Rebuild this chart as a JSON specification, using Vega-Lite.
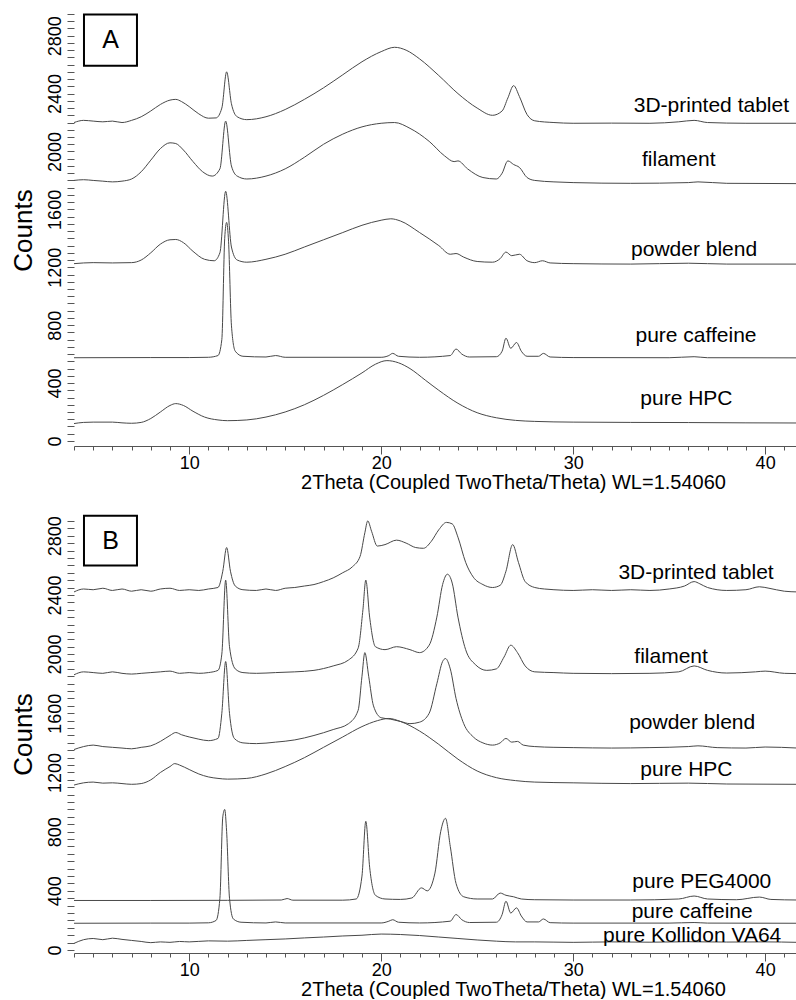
{
"$schema": "https://vega.github.io/schema/vega-lite/v6.json",
"padding": {"left": 9, "top": 13, "right": 0, "bottom": 0},
"autosize": {"type": "pad"},
"spacing": 22,
"config": {"view": {"stroke": null}, "font": "Liberation Sans",
 "axis": {"labelFont": "Liberation Sans", "titleFont": "Liberation Sans", "titleFontWeight": "normal", "labelColor": "#000", "titleColor": "#000", "tickColor": "#555", "domainColor": "#555", "grid": false}},
"datasets": {
"A": [
{"s":"t","x":4,"y":2200},{"s":"t","x":4.5,"y":2215},{"s":"t","x":5,"y":2210},{"s":"t","x":5.5,"y":2205},{"s":"t","x":6,"y":2210},{"s":"t","x":6.5,"y":2200},{"s":"t","x":7,"y":2215},{"s":"t","x":7.5,"y":2240},{"s":"t","x":8,"y":2280},{"s":"t","x":8.5,"y":2325},{"s":"t","x":9,"y":2355},{"s":"t","x":9.3,"y":2360},{"s":"t","x":9.6,"y":2345},{"s":"t","x":10,"y":2310},{"s":"t","x":10.5,"y":2260},{"s":"t","x":11,"y":2230},{"s":"t","x":11.4,"y":2232},{"s":"t","x":11.7,"y":2300},{"s":"t","x":11.95,"y":2550},{"s":"t","x":12.2,"y":2330},{"s":"t","x":12.5,"y":2240},{"s":"t","x":13,"y":2220},{"s":"t","x":14,"y":2240},{"s":"t","x":15,"y":2290},{"s":"t","x":16,"y":2360},{"s":"t","x":17,"y":2440},{"s":"t","x":18,"y":2530},{"s":"t","x":19,"y":2620},{"s":"t","x":20,"y":2690},{"s":"t","x":20.7,"y":2720},{"s":"t","x":21.3,"y":2700},{"s":"t","x":22,"y":2640},{"s":"t","x":23,"y":2525},{"s":"t","x":24,"y":2400},{"s":"t","x":25,"y":2300},{"s":"t","x":25.8,"y":2250},{"s":"t","x":26.3,"y":2280},{"s":"t","x":26.6,"y":2370},{"s":"t","x":26.9,"y":2455},{"s":"t","x":27.2,"y":2380},{"s":"t","x":27.6,"y":2255},{"s":"t","x":28,"y":2212},{"s":"t","x":29,"y":2200},{"s":"t","x":30,"y":2195},{"s":"t","x":32,"y":2196},{"s":"t","x":34,"y":2195},{"s":"t","x":35.5,"y":2205},{"s":"t","x":36.3,"y":2215},{"s":"t","x":37,"y":2200},{"s":"t","x":39,"y":2195},{"s":"t","x":41.7,"y":2195},
{"s":"f","x":4,"y":1800},{"s":"f","x":4.5,"y":1805},{"s":"f","x":5,"y":1800},{"s":"f","x":5.5,"y":1795},{"s":"f","x":6,"y":1790},{"s":"f","x":6.5,"y":1795},{"s":"f","x":7,"y":1810},{"s":"f","x":7.5,"y":1860},{"s":"f","x":8,"y":1940},{"s":"f","x":8.5,"y":2020},{"s":"f","x":9,"y":2060},{"s":"f","x":9.3,"y":2055},{"s":"f","x":9.7,"y":2010},{"s":"f","x":10.2,"y":1930},{"s":"f","x":10.7,"y":1860},{"s":"f","x":11.2,"y":1830},{"s":"f","x":11.6,"y":1880},{"s":"f","x":11.9,"y":2210},{"s":"f","x":12.2,"y":1900},{"s":"f","x":12.5,"y":1830},{"s":"f","x":13,"y":1810},{"s":"f","x":14,"y":1830},{"s":"f","x":15,"y":1880},{"s":"f","x":16,"y":1960},{"s":"f","x":17,"y":2050},{"s":"f","x":18,"y":2120},{"s":"f","x":19,"y":2170},{"s":"f","x":20,"y":2195},{"s":"f","x":20.7,"y":2200},{"s":"f","x":21.5,"y":2160},{"s":"f","x":22.5,"y":2070},{"s":"f","x":23.3,"y":1970},{"s":"f","x":23.8,"y":1930},{"s":"f","x":24,"y":1935},{"s":"f","x":24.5,"y":1880},{"s":"f","x":25.3,"y":1820},{"s":"f","x":26,"y":1810},{"s":"f","x":26.3,"y":1850},{"s":"f","x":26.6,"y":1935},{"s":"f","x":26.9,"y":1910},{"s":"f","x":27.2,"y":1890},{"s":"f","x":27.6,"y":1820},{"s":"f","x":28,"y":1800},{"s":"f","x":29,"y":1790},{"s":"f","x":30,"y":1785},{"s":"f","x":33,"y":1780},{"s":"f","x":36,"y":1785},{"s":"f","x":36.5,"y":1790},{"s":"f","x":38,"y":1780},{"s":"f","x":41.7,"y":1778},
{"s":"p","x":4,"y":1225},{"s":"p","x":5,"y":1232},{"s":"p","x":6,"y":1230},{"s":"p","x":7,"y":1232},{"s":"p","x":7.5,"y":1250},{"s":"p","x":8,"y":1300},{"s":"p","x":8.5,"y":1360},{"s":"p","x":9,"y":1390},{"s":"p","x":9.3,"y":1392},{"s":"p","x":9.7,"y":1370},{"s":"p","x":10.2,"y":1310},{"s":"p","x":10.8,"y":1255},{"s":"p","x":11.3,"y":1245},{"s":"p","x":11.6,"y":1300},{"s":"p","x":11.9,"y":1725},{"s":"p","x":12.2,"y":1340},{"s":"p","x":12.5,"y":1250},{"s":"p","x":13,"y":1235},{"s":"p","x":14,"y":1255},{"s":"p","x":15,"y":1290},{"s":"p","x":16,"y":1340},{"s":"p","x":17,"y":1390},{"s":"p","x":18,"y":1440},{"s":"p","x":19,"y":1490},{"s":"p","x":20,"y":1525},{"s":"p","x":20.5,"y":1535},{"s":"p","x":21,"y":1520},{"s":"p","x":22,"y":1440},{"s":"p","x":23,"y":1350},{"s":"p","x":23.6,"y":1290},{"s":"p","x":23.9,"y":1295},{"s":"p","x":24.3,"y":1270},{"s":"p","x":25,"y":1240},{"s":"p","x":25.8,"y":1235},{"s":"p","x":26.2,"y":1260},{"s":"p","x":26.5,"y":1305},{"s":"p","x":26.8,"y":1280},{"s":"p","x":27.2,"y":1290},{"s":"p","x":27.6,"y":1245},{"s":"p","x":28,"y":1232},{"s":"p","x":28.4,"y":1245},{"s":"p","x":28.8,"y":1230},{"s":"p","x":30,"y":1225},{"s":"p","x":33,"y":1222},{"s":"p","x":36,"y":1228},{"s":"p","x":38,"y":1222},{"s":"p","x":41.7,"y":1222},
{"s":"c","x":4,"y":575},{"s":"c","x":8,"y":576},{"s":"c","x":10,"y":576},{"s":"c","x":11,"y":578},{"s":"c","x":11.5,"y":590},{"s":"c","x":11.7,"y":700},{"s":"c","x":11.85,"y":1400},{"s":"c","x":11.95,"y":1510},{"s":"c","x":12.05,"y":1380},{"s":"c","x":12.2,"y":800},{"s":"c","x":12.4,"y":620},{"s":"c","x":12.8,"y":585},{"s":"c","x":14,"y":580},{"s":"c","x":14.5,"y":590},{"s":"c","x":15,"y":578},{"s":"c","x":20,"y":578},{"s":"c","x":20.4,"y":590},{"s":"c","x":20.6,"y":605},{"s":"c","x":20.9,"y":585},{"s":"c","x":22,"y":578},{"s":"c","x":23.6,"y":590},{"s":"c","x":23.9,"y":635},{"s":"c","x":24.2,"y":600},{"s":"c","x":24.6,"y":580},{"s":"c","x":26,"y":582},{"s":"c","x":26.3,"y":620},{"s":"c","x":26.5,"y":710},{"s":"c","x":26.75,"y":640},{"s":"c","x":27.05,"y":680},{"s":"c","x":27.3,"y":620},{"s":"c","x":27.6,"y":585},{"s":"c","x":28.2,"y":585},{"s":"c","x":28.45,"y":605},{"s":"c","x":28.8,"y":580},{"s":"c","x":30,"y":576},{"s":"c","x":35,"y":575},{"s":"c","x":36.3,"y":582},{"s":"c","x":37,"y":575},{"s":"c","x":41.7,"y":574},
{"s":"h","x":4,"y":120},{"s":"h","x":4.5,"y":128},{"s":"h","x":5,"y":130},{"s":"h","x":6,"y":130},{"s":"h","x":6.5,"y":125},{"s":"h","x":7,"y":122},{"s":"h","x":7.5,"y":128},{"s":"h","x":8,"y":155},{"s":"h","x":8.5,"y":200},{"s":"h","x":9,"y":245},{"s":"h","x":9.3,"y":258},{"s":"h","x":9.7,"y":245},{"s":"h","x":10.2,"y":205},{"s":"h","x":10.8,"y":165},{"s":"h","x":11.5,"y":145},{"s":"h","x":12,"y":140},{"s":"h","x":13,"y":145},{"s":"h","x":14,"y":165},{"s":"h","x":15,"y":200},{"s":"h","x":16,"y":250},{"s":"h","x":17,"y":315},{"s":"h","x":18,"y":390},{"s":"h","x":19,"y":470},{"s":"h","x":19.7,"y":530},{"s":"h","x":20.3,"y":555},{"s":"h","x":20.9,"y":540},{"s":"h","x":21.5,"y":500},{"s":"h","x":22.3,"y":420},{"s":"h","x":23,"y":350},{"s":"h","x":24,"y":260},{"s":"h","x":25,"y":195},{"s":"h","x":26,"y":160},{"s":"h","x":27,"y":142},{"s":"h","x":28,"y":135},{"s":"h","x":30,"y":130},{"s":"h","x":33,"y":128},{"s":"h","x":36,"y":127},{"s":"h","x":39,"y":125},{"s":"h","x":41.7,"y":124}
],
"B": [
{"s":"t","x":4,"y":2420},{"s":"t","x":4.5,"y":2440},{"s":"t","x":5,"y":2435},{"s":"t","x":5.5,"y":2445},{"s":"t","x":6,"y":2430},{"s":"t","x":6.5,"y":2440},{"s":"t","x":7,"y":2425},{"s":"t","x":7.5,"y":2435},{"s":"t","x":8,"y":2425},{"s":"t","x":8.5,"y":2440},{"s":"t","x":9,"y":2445},{"s":"t","x":9.5,"y":2430},{"s":"t","x":10,"y":2435},{"s":"t","x":10.5,"y":2430},{"s":"t","x":11,"y":2440},{"s":"t","x":11.5,"y":2450},{"s":"t","x":11.75,"y":2560},{"s":"t","x":11.95,"y":2720},{"s":"t","x":12.15,"y":2560},{"s":"t","x":12.4,"y":2460},{"s":"t","x":12.8,"y":2435},{"s":"t","x":13.5,"y":2430},{"s":"t","x":14,"y":2440},{"s":"t","x":14.5,"y":2430},{"s":"t","x":15,"y":2445},{"s":"t","x":15.5,"y":2450},{"s":"t","x":16,"y":2460},{"s":"t","x":16.5,"y":2470},{"s":"t","x":17,"y":2490},{"s":"t","x":17.5,"y":2515},{"s":"t","x":18,"y":2550},{"s":"t","x":18.5,"y":2590},{"s":"t","x":18.9,"y":2660},{"s":"t","x":19.15,"y":2820},{"s":"t","x":19.3,"y":2900},{"s":"t","x":19.5,"y":2830},{"s":"t","x":19.8,"y":2730},{"s":"t","x":20.2,"y":2740},{"s":"t","x":20.8,"y":2770},{"s":"t","x":21.3,"y":2750},{"s":"t","x":21.8,"y":2720},{"s":"t","x":22.2,"y":2715},{"s":"t","x":22.6,"y":2760},{"s":"t","x":23,"y":2840},{"s":"t","x":23.4,"y":2890},{"s":"t","x":23.7,"y":2880},{"s":"t","x":24,"y":2790},{"s":"t","x":24.4,"y":2620},{"s":"t","x":24.8,"y":2520},{"s":"t","x":25.3,"y":2470},{"s":"t","x":25.8,"y":2450},{"s":"t","x":26.2,"y":2465},{"s":"t","x":26.5,"y":2560},{"s":"t","x":26.85,"y":2740},{"s":"t","x":27.15,"y":2620},{"s":"t","x":27.5,"y":2490},{"s":"t","x":28,"y":2450},{"s":"t","x":28.5,"y":2440},{"s":"t","x":29,"y":2435},{"s":"t","x":30,"y":2430},{"s":"t","x":31,"y":2435},{"s":"t","x":32,"y":2430},{"s":"t","x":33,"y":2435},{"s":"t","x":34,"y":2430},{"s":"t","x":35,"y":2440},{"s":"t","x":35.8,"y":2460},{"s":"t","x":36.3,"y":2490},{"s":"t","x":36.6,"y":2475},{"s":"t","x":37,"y":2450},{"s":"t","x":38,"y":2430},{"s":"t","x":39,"y":2435},{"s":"t","x":39.7,"y":2455},{"s":"t","x":40.2,"y":2445},{"s":"t","x":41,"y":2425},{"s":"t","x":41.7,"y":2420},
{"s":"f","x":4,"y":1860},{"s":"f","x":4.5,"y":1880},{"s":"f","x":5,"y":1875},{"s":"f","x":5.5,"y":1870},{"s":"f","x":6,"y":1880},{"s":"f","x":6.5,"y":1870},{"s":"f","x":7,"y":1865},{"s":"f","x":7.5,"y":1870},{"s":"f","x":8,"y":1875},{"s":"f","x":8.5,"y":1880},{"s":"f","x":9,"y":1885},{"s":"f","x":9.5,"y":1870},{"s":"f","x":10,"y":1875},{"s":"f","x":10.5,"y":1870},{"s":"f","x":11,"y":1875},{"s":"f","x":11.5,"y":1890},{"s":"f","x":11.7,"y":2000},{"s":"f","x":11.9,"y":2500},{"s":"f","x":12.1,"y":2050},{"s":"f","x":12.4,"y":1900},{"s":"f","x":12.8,"y":1875},{"s":"f","x":13.5,"y":1870},{"s":"f","x":14.5,"y":1875},{"s":"f","x":15.5,"y":1880},{"s":"f","x":16.5,"y":1890},{"s":"f","x":17.5,"y":1920},{"s":"f","x":18.3,"y":1960},{"s":"f","x":18.8,"y":2040},{"s":"f","x":19.05,"y":2300},{"s":"f","x":19.2,"y":2500},{"s":"f","x":19.4,"y":2250},{"s":"f","x":19.7,"y":2050},{"s":"f","x":20.2,"y":2030},{"s":"f","x":20.8,"y":2050},{"s":"f","x":21.5,"y":2030},{"s":"f","x":22,"y":2010},{"s":"f","x":22.5,"y":2060},{"s":"f","x":22.9,"y":2250},{"s":"f","x":23.2,"y":2470},{"s":"f","x":23.45,"y":2540},{"s":"f","x":23.7,"y":2480},{"s":"f","x":24,"y":2250},{"s":"f","x":24.4,"y":2030},{"s":"f","x":24.9,"y":1930},{"s":"f","x":25.5,"y":1890},{"s":"f","x":26,"y":1900},{"s":"f","x":26.4,"y":1980},{"s":"f","x":26.75,"y":2060},{"s":"f","x":27.1,"y":2010},{"s":"f","x":27.5,"y":1920},{"s":"f","x":28,"y":1880},{"s":"f","x":29,"y":1875},{"s":"f","x":30,"y":1870},{"s":"f","x":32,"y":1868},{"s":"f","x":34,"y":1870},{"s":"f","x":35.5,"y":1880},{"s":"f","x":36.3,"y":1920},{"s":"f","x":37,"y":1890},{"s":"f","x":38,"y":1872},{"s":"f","x":39.5,"y":1880},{"s":"f","x":40,"y":1885},{"s":"f","x":41,"y":1870},{"s":"f","x":41.7,"y":1868},
{"s":"p","x":4,"y":1355},{"s":"p","x":4.5,"y":1375},{"s":"p","x":5,"y":1385},{"s":"p","x":5.5,"y":1375},{"s":"p","x":6,"y":1370},{"s":"p","x":6.5,"y":1365},{"s":"p","x":7,"y":1360},{"s":"p","x":7.5,"y":1370},{"s":"p","x":8,"y":1380},{"s":"p","x":8.5,"y":1410},{"s":"p","x":9,"y":1450},{"s":"p","x":9.3,"y":1470},{"s":"p","x":9.6,"y":1455},{"s":"p","x":10,"y":1440},{"s":"p","x":10.5,"y":1425},{"s":"p","x":11,"y":1415},{"s":"p","x":11.5,"y":1430},{"s":"p","x":11.7,"y":1600},{"s":"p","x":11.9,"y":1950},{"s":"p","x":12.1,"y":1600},{"s":"p","x":12.35,"y":1430},{"s":"p","x":12.8,"y":1400},{"s":"p","x":13.5,"y":1395},{"s":"p","x":14.5,"y":1405},{"s":"p","x":15.5,"y":1420},{"s":"p","x":16.5,"y":1450},{"s":"p","x":17.5,"y":1490},{"s":"p","x":18.3,"y":1530},{"s":"p","x":18.8,"y":1620},{"s":"p","x":19,"y":1850},{"s":"p","x":19.15,"y":2010},{"s":"p","x":19.35,"y":1850},{"s":"p","x":19.6,"y":1650},{"s":"p","x":20,"y":1570},{"s":"p","x":20.5,"y":1560},{"s":"p","x":21,"y":1545},{"s":"p","x":21.5,"y":1530},{"s":"p","x":22,"y":1540},{"s":"p","x":22.5,"y":1600},{"s":"p","x":22.9,"y":1800},{"s":"p","x":23.2,"y":1950},{"s":"p","x":23.35,"y":1970},{"s":"p","x":23.6,"y":1900},{"s":"p","x":23.9,"y":1700},{"s":"p","x":24.3,"y":1530},{"s":"p","x":24.8,"y":1440},{"s":"p","x":25.3,"y":1400},{"s":"p","x":25.8,"y":1385},{"s":"p","x":26.2,"y":1400},{"s":"p","x":26.5,"y":1430},{"s":"p","x":26.8,"y":1405},{"s":"p","x":27.1,"y":1410},{"s":"p","x":27.4,"y":1385},{"s":"p","x":28,"y":1375},{"s":"p","x":29,"y":1370},{"s":"p","x":30,"y":1368},{"s":"p","x":32,"y":1365},{"s":"p","x":34,"y":1368},{"s":"p","x":36,"y":1375},{"s":"p","x":36.5,"y":1380},{"s":"p","x":37.5,"y":1368},{"s":"p","x":39,"y":1365},{"s":"p","x":40,"y":1372},{"s":"p","x":41.7,"y":1365},
{"s":"h","x":4,"y":1115},{"s":"h","x":4.5,"y":1130},{"s":"h","x":5,"y":1135},{"s":"h","x":5.5,"y":1128},{"s":"h","x":6,"y":1130},{"s":"h","x":6.5,"y":1125},{"s":"h","x":7,"y":1120},{"s":"h","x":7.5,"y":1125},{"s":"h","x":8,"y":1150},{"s":"h","x":8.5,"y":1200},{"s":"h","x":9,"y":1240},{"s":"h","x":9.25,"y":1260},{"s":"h","x":9.5,"y":1250},{"s":"h","x":10,"y":1220},{"s":"h","x":10.5,"y":1190},{"s":"h","x":11,"y":1170},{"s":"h","x":11.5,"y":1160},{"s":"h","x":12,"y":1155},{"s":"h","x":13,"y":1160},{"s":"h","x":14,"y":1190},{"s":"h","x":15,"y":1240},{"s":"h","x":16,"y":1300},{"s":"h","x":17,"y":1370},{"s":"h","x":18,"y":1440},{"s":"h","x":19,"y":1510},{"s":"h","x":19.8,"y":1550},{"s":"h","x":20.4,"y":1565},{"s":"h","x":21,"y":1545},{"s":"h","x":22,"y":1480},{"s":"h","x":23,"y":1390},{"s":"h","x":24,"y":1290},{"s":"h","x":25,"y":1210},{"s":"h","x":26,"y":1165},{"s":"h","x":27,"y":1145},{"s":"h","x":28,"y":1135},{"s":"h","x":30,"y":1130},{"s":"h","x":33,"y":1125},{"s":"h","x":36,"y":1128},{"s":"h","x":38,"y":1122},{"s":"h","x":41.7,"y":1120},
{"s":"g","x":4,"y":335},{"s":"g","x":8,"y":335},{"s":"g","x":12,"y":336},{"s":"g","x":14.8,"y":338},{"s":"g","x":15.1,"y":348},{"s":"g","x":15.4,"y":337},{"s":"g","x":18,"y":337},{"s":"g","x":18.7,"y":345},{"s":"g","x":19,"y":500},{"s":"g","x":19.2,"y":870},{"s":"g","x":19.4,"y":560},{"s":"g","x":19.7,"y":370},{"s":"g","x":20.2,"y":345},{"s":"g","x":21,"y":342},{"s":"g","x":21.6,"y":352},{"s":"g","x":22.1,"y":420},{"s":"g","x":22.4,"y":400},{"s":"g","x":22.8,"y":520},{"s":"g","x":23.1,"y":800},{"s":"g","x":23.35,"y":890},{"s":"g","x":23.6,"y":700},{"s":"g","x":23.9,"y":450},{"s":"g","x":24.3,"y":360},{"s":"g","x":25,"y":345},{"s":"g","x":25.8,"y":345},{"s":"g","x":26.2,"y":385},{"s":"g","x":26.5,"y":370},{"s":"g","x":26.9,"y":360},{"s":"g","x":27.3,"y":345},{"s":"g","x":28,"y":340},{"s":"g","x":30,"y":338},{"s":"g","x":33,"y":338},{"s":"g","x":35.5,"y":345},{"s":"g","x":36.3,"y":365},{"s":"g","x":37,"y":345},{"s":"g","x":38.5,"y":340},{"s":"g","x":39.7,"y":358},{"s":"g","x":40.3,"y":342},{"s":"g","x":41.7,"y":338},
{"s":"c","x":4,"y":181},{"s":"c","x":8,"y":182},{"s":"c","x":10,"y":182},{"s":"c","x":11,"y":184},{"s":"c","x":11.4,"y":200},{"s":"c","x":11.6,"y":350},{"s":"c","x":11.75,"y":900},{"s":"c","x":11.85,"y":950},{"s":"c","x":11.95,"y":800},{"s":"c","x":12.1,"y":350},{"s":"c","x":12.3,"y":210},{"s":"c","x":12.7,"y":188},{"s":"c","x":14,"y":183},{"s":"c","x":14.5,"y":190},{"s":"c","x":15,"y":183},{"s":"c","x":20,"y":183},{"s":"c","x":20.4,"y":195},{"s":"c","x":20.6,"y":205},{"s":"c","x":20.9,"y":188},{"s":"c","x":22,"y":183},{"s":"c","x":23.6,"y":195},{"s":"c","x":23.9,"y":240},{"s":"c","x":24.2,"y":205},{"s":"c","x":24.6,"y":186},{"s":"c","x":26,"y":188},{"s":"c","x":26.3,"y":240},{"s":"c","x":26.5,"y":330},{"s":"c","x":26.75,"y":250},{"s":"c","x":27.05,"y":285},{"s":"c","x":27.3,"y":230},{"s":"c","x":27.6,"y":190},{"s":"c","x":28.2,"y":190},{"s":"c","x":28.45,"y":210},{"s":"c","x":28.8,"y":185},{"s":"c","x":30,"y":182},{"s":"c","x":35,"y":182},{"s":"c","x":36.3,"y":186},{"s":"c","x":37,"y":182},{"s":"c","x":41.7,"y":181},
{"s":"k","x":4,"y":45},{"s":"k","x":4.5,"y":70},{"s":"k","x":5,"y":78},{"s":"k","x":5.5,"y":70},{"s":"k","x":6,"y":80},{"s":"k","x":6.5,"y":72},{"s":"k","x":7,"y":65},{"s":"k","x":7.5,"y":58},{"s":"k","x":8,"y":50},{"s":"k","x":8.5,"y":55},{"s":"k","x":9,"y":52},{"s":"k","x":9.5,"y":58},{"s":"k","x":10,"y":55},{"s":"k","x":11,"y":62},{"s":"k","x":12,"y":60},{"s":"k","x":13,"y":65},{"s":"k","x":14,"y":70},{"s":"k","x":15,"y":75},{"s":"k","x":16,"y":82},{"s":"k","x":17,"y":88},{"s":"k","x":18,"y":95},{"s":"k","x":19,"y":100},{"s":"k","x":20,"y":108},{"s":"k","x":21,"y":105},{"s":"k","x":22,"y":98},{"s":"k","x":23,"y":88},{"s":"k","x":24,"y":78},{"s":"k","x":25,"y":68},{"s":"k","x":26,"y":60},{"s":"k","x":27,"y":55},{"s":"k","x":28,"y":55},{"s":"k","x":30,"y":52},{"s":"k","x":32,"y":55},{"s":"k","x":34,"y":53},{"s":"k","x":36,"y":56},{"s":"k","x":38,"y":54},{"s":"k","x":40,"y":55},{"s":"k","x":41.7,"y":52}
]
},
"vconcat": [
{
 "width": 723, "height": 432,
 "encoding": {
  "x": {"field": "x", "type": "quantitative", "scale": {"domain": [4, 41.66], "nice": false, "zero": false},
   "axis": {"title": "2Theta (Coupled TwoTheta/Theta) WL=1.54060", "titleFontSize": 20, "labelFontSize": 18, "format": "d",
    "titleX": 439, "titleAlign": "center",
    "values": [4,5,6,7,8,9,10,11,12,13,14,15,16,17,18,19,20,21,22,23,24,25,26,27,28,29,30,31,32,33,34,35,36,37,38,39,40,41],
    "labelExpr": "datum.value % 10 === 0 ? datum.label : ''",
    "tickSize": {"condition": {"test": "datum.value % 10 === 0", "value": 8}, "value": 4},
    "labelPadding": 0, "titlePadding": 0, "labelOverlap": false, "labelFlush": false}},
  "y": {"field": "y", "type": "quantitative", "scale": {"domain": [-35, 2950], "nice": false, "zero": false},
   "axis": {"title": "Counts", "titleFontSize": 26, "labelFontSize": 18, "labelAngle": -90, "format": "d", "domain": false, "tickSize": 7,
    "values": [0,50,100,150,200,250,300,350,400,450,500,550,600,650,700,750,800,850,900,950,1000,1050,1100,1150,1200,1250,1300,1350,1400,1450,1500,1550,1600,1650,1700,1750,1800,1850,1900,1950,2000,2050,2100,2150,2200,2250,2300,2350,2400,2450,2500,2550,2600,2650,2700,2750,2800,2850,2900,2950],
    "labelExpr": "datum.value % 400 === 0 ? datum.label : ''",
    "labelPadding": 3, "titlePadding": 10, "labelOverlap": false}}
 },
 "layer": [
  {"data": {"name": "A"}, "mark": {"type": "line", "stroke": "#484848", "strokeWidth": 1, "interpolate": "monotone"}, "encoding": {"detail": {"field": "s"}}},
  {"data": {"values": [
   {"x": 37.2, "y": 2317, "label": "3D-printed tablet"},
   {"x": 35.5, "y": 1943, "label": "filament"},
   {"x": 36.3, "y": 1321, "label": "powder blend"},
   {"x": 36.4, "y": 726, "label": "pure caffeine"},
   {"x": 35.9, "y": 290, "label": "pure HPC"}]},
   "mark": {"type": "text", "fontSize": 21, "font": "Liberation Sans", "color": "#000", "align": "center", "baseline": "middle"},
   "encoding": {"text": {"field": "label"}}},
  {"data": {"values": [{"x": 4.52, "x2": 7.28, "y": 2593, "y2": 2946}]},
   "mark": {"type": "rect", "fill": "white", "stroke": "#000", "strokeWidth": 2},
   "encoding": {"x2": {"field": "x2"}, "y2": {"field": "y2"}}},
  {"data": {"values": [{"x": 5.9, "y": 2770, "label": "A"}]},
   "mark": {"type": "text", "fontSize": 25, "font": "Liberation Sans", "color": "#000", "align": "center", "baseline": "middle"},
   "encoding": {"text": {"field": "label"}}}
 ]
},
{
 "width": 723, "height": 438,
 "encoding": {
  "x": {"field": "x", "type": "quantitative", "scale": {"domain": [4, 41.66], "nice": false, "zero": false},
   "axis": {"title": "2Theta (Coupled TwoTheta/Theta) WL=1.54060", "titleFontSize": 20, "labelFontSize": 18, "format": "d",
    "titleX": 439, "titleAlign": "center",
    "values": [4,5,6,7,8,9,10,11,12,13,14,15,16,17,18,19,20,21,22,23,24,25,26,27,28,29,30,31,32,33,34,35,36,37,38,39,40,41],
    "labelExpr": "datum.value % 10 === 0 ? datum.label : ''",
    "tickSize": {"condition": {"test": "datum.value % 10 === 0", "value": 8}, "value": 4},
    "labelPadding": 0, "titlePadding": 0, "labelOverlap": false, "labelFlush": false}},
  "y": {"field": "y", "type": "quantitative", "scale": {"domain": [-20, 2940], "nice": false, "zero": false},
   "axis": {"title": "Counts", "titleFontSize": 26, "labelFontSize": 18, "labelAngle": -90, "format": "d", "domain": false, "tickSize": 7,
    "values": [0,50,100,150,200,250,300,350,400,450,500,550,600,650,700,750,800,850,900,950,1000,1050,1100,1150,1200,1250,1300,1350,1400,1450,1500,1550,1600,1650,1700,1750,1800,1850,1900,1950,2000,2050,2100,2150,2200,2250,2300,2350,2400,2450,2500,2550,2600,2650,2700,2750,2800,2850,2900],
    "labelExpr": "datum.value % 400 === 0 ? datum.label : ''",
    "labelPadding": 3, "titlePadding": 10, "labelOverlap": false}}
 },
 "layer": [
  {"data": {"name": "B"}, "mark": {"type": "line", "stroke": "#484848", "strokeWidth": 1, "interpolate": "monotone"}, "encoding": {"detail": {"field": "s"}}},
  {"data": {"values": [
   {"x": 36.4, "y": 2545, "label": "3D-printed tablet"},
   {"x": 35.1, "y": 1983, "label": "filament"},
   {"x": 36.2, "y": 1534, "label": "powder blend"},
   {"x": 35.9, "y": 1219, "label": "pure HPC"},
   {"x": 36.7, "y": 462, "label": "pure PEG4000"},
   {"x": 36.2, "y": 254, "label": "pure caffeine"},
   {"x": 36.2, "y": 94, "label": "pure Kollidon VA64"}]},
   "mark": {"type": "text", "fontSize": 21, "font": "Liberation Sans", "color": "#000", "align": "center", "baseline": "middle"},
   "encoding": {"text": {"field": "label"}}},
  {"data": {"values": [{"x": 4.52, "x2": 7.28, "y": 2599, "y2": 2935}]},
   "mark": {"type": "rect", "fill": "white", "stroke": "#000", "strokeWidth": 2},
   "encoding": {"x2": {"field": "x2"}, "y2": {"field": "y2"}}},
  {"data": {"values": [{"x": 5.9, "y": 2767, "label": "B"}]},
   "mark": {"type": "text", "fontSize": 25, "font": "Liberation Sans", "color": "#000", "align": "center", "baseline": "middle"},
   "encoding": {"text": {"field": "label"}}}
 ]
}
]
}
